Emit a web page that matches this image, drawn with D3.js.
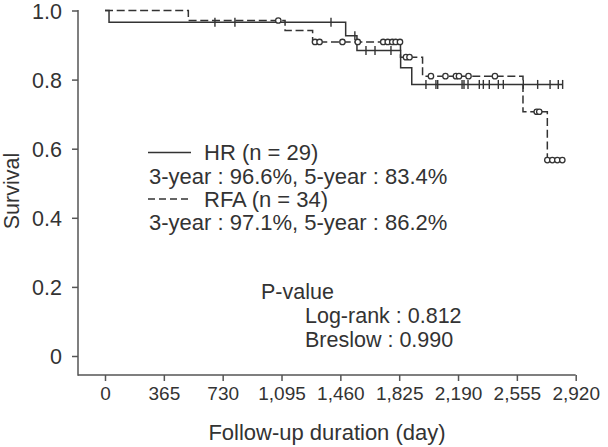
<!DOCTYPE html>
<html>
<head>
<meta charset="utf-8">
<script src="https://cdn.jsdelivr.net/npm/d3@7"></script>
<style>
  html, body { margin: 0; padding: 0; background: #fff; }
  svg { display: block; }
  text { font-family: "Liberation Sans", Arial, Helvetica, sans-serif; fill: #333; }
</style>
</head>
<body>
<svg id="chart" width="608" height="447"></svg>
<script>
// ---- data ----
const xTickValues = [0, 365, 730, 1095, 1460, 1825, 2190, 2555, 2920];
const xTickLabels = ["0", "365", "730", "1,095", "1,460", "1,825", "2,190", "2,555", "2,920"];
const yTickValues = [0, 0.2, 0.4, 0.6, 0.8, 1.0];
const yTickLabels = ["0", "0.2", "0.4", "0.6", "0.8", "1.0"];

// HR (solid) Kaplan-Meier step curve
const hrTimes = [0, 25, 1493, 1563, 1834, 1903];
const hrSurv  = [1, 0.966, 0.927, 0.884, 0.834, 0.786];
const hrEndTime = 2839;
const hrCensorTimes = [682, 806, 1402, 1550, 1619, 1675, 1774, 1991, 2053, 2064, 2215, 2227, 2252, 2322, 2347, 2384, 2440, 2471, 2595, 2684, 2761, 2812, 2839];
const hrCensorSurv  = [0.966, 0.966, 0.966, 0.927, 0.884, 0.884, 0.884, 0.786, 0.786, 0.786, 0.786, 0.786, 0.786, 0.786, 0.786, 0.786, 0.786, 0.786, 0.786, 0.786, 0.786, 0.786, 0.786];

// RFA (dashed) Kaplan-Meier step curve
const rfaTimes = [0, 517, 1117, 1288, 1833, 1970, 2593, 2744];
const rfaSurv  = [1, 0.971, 0.942, 0.909, 0.865, 0.810, 0.707, 0.567];
const rfaEndTime = 2744;
const rfaCensorTimes = [1075, 1303, 1331, 1473, 1568, 1726, 1754, 1782, 1803, 1830, 1867, 1889, 2022, 2112, 2177, 2196, 2255, 2419, 2678, 2694, 2744, 2775, 2806, 2837];
const rfaCensorSurv  = [0.971, 0.909, 0.909, 0.909, 0.909, 0.909, 0.909, 0.909, 0.909, 0.909, 0.865, 0.865, 0.810, 0.810, 0.810, 0.810, 0.810, 0.810, 0.707, 0.707, 0.567, 0.567, 0.567, 0.567];

const legendRows = [
  { kind: "solid", label: "HR (n = 29)" },
  { kind: null, label: "3-year : 96.6%, 5-year : 83.4%" },
  { kind: "dashed", label: "RFA (n = 34)" },
  { kind: null, label: "3-year : 97.1%, 5-year : 86.2%" }
];
const pTitle = "P-value";
const pRows = ["Log-rank : 0.812", "Breslow : 0.990"];

// ---- drawing ----
const ink = "#333";
const svg = d3.select("#chart");

const x = d3.scaleLinear().domain([0, 2920]).range([105, 575.7]);
const y = d3.scaleLinear().domain([0, 1]).range([356, 10.5]);

const axisX0 = 78, axisY0 = 375;

// axis lines
svg.append("line").attr("x1", axisX0).attr("x2", x(2920)).attr("y1", axisY0).attr("y2", axisY0)
  .attr("stroke", "#555").attr("stroke-width", 1.5);
svg.append("line").attr("x1", axisX0).attr("x2", axisX0).attr("y1", y(1) - 0.5).attr("y2", axisY0 + 0.7)
  .attr("stroke", "#555").attr("stroke-width", 1.5);

// x axis
const gx = svg.append("g").attr("transform", `translate(0,${axisY0})`)
  .call(d3.axisBottom(x).tickValues(xTickValues)
    .tickFormat((d, i) => xTickLabels[i]).tickSizeOuter(0).tickSize(6).tickPadding(4));
gx.select(".domain").remove();
gx.selectAll(".tick line").attr("stroke", "#555").attr("stroke-width", 1.5);
gx.selectAll(".tick text").attr("font-size", 19).attr("fill", ink)
  .attr("font-family", '"Liberation Sans", Arial, sans-serif')
  .attr("dy", null).attr("y", 25);

// y axis
const gy = svg.append("g").attr("transform", `translate(${axisX0},0)`)
  .call(d3.axisLeft(y).tickValues(yTickValues)
    .tickFormat((d, i) => yTickLabels[i]).tickSizeOuter(0).tickSize(6));
gy.select(".domain").remove();
gy.selectAll(".tick line").attr("stroke", "#555").attr("stroke-width", 1.5);
gy.selectAll(".tick text").attr("font-size", 21.5).attr("fill", ink)
  .attr("font-family", '"Liberation Sans", Arial, sans-serif')
  .attr("x", -16).attr("dy", "0.36em");

// axis titles
svg.append("text").attr("x", 327).attr("y", 440).attr("text-anchor", "middle")
  .attr("font-size", 22).text("Follow-up duration (day)");
svg.append("text").attr("transform", "translate(19,191) rotate(-90)").attr("text-anchor", "middle")
  .attr("font-size", 21.5).text("Survival");

// curves
function stepPoints(times, surv, endT) {
  const pts = times.map((t, i) => [t, surv[i]]);
  pts.push([endT, surv[surv.length - 1]]);
  return pts;
}
const line = d3.line().x(d => x(d[0])).y(d => y(d[1])).curve(d3.curveStepAfter);

svg.append("path").attr("d", line(stepPoints(rfaTimes, rfaSurv, rfaEndTime)))
  .attr("fill", "none").attr("stroke", ink).attr("stroke-width", 1.5)
  .attr("stroke-dasharray", "8,3.7");
svg.append("path").attr("d", line(stepPoints(hrTimes, hrSurv, hrEndTime)))
  .attr("fill", "none").attr("stroke", ink).attr("stroke-width", 1.5);

// HR censor ticks
svg.append("g").selectAll("line").data(hrCensorTimes).join("line")
  .attr("x1", d => x(d)).attr("x2", d => x(d))
  .attr("y1", (d, i) => y(hrCensorSurv[i]) - 4.5)
  .attr("y2", (d, i) => y(hrCensorSurv[i]) + 4.5)
  .attr("stroke", ink).attr("stroke-width", 1.4);

// RFA censor circles
svg.append("g").selectAll("circle").data(rfaCensorTimes).join("circle")
  .attr("cx", d => x(d)).attr("cy", (d, i) => y(rfaCensorSurv[i]))
  .attr("r", 2.7).attr("fill", "#fff").attr("stroke", ink).attr("stroke-width", 1.3);

// legend
const legY = [160, 183.5, 206.5, 230];
legendRows.forEach((r, i) => {
  if (r.kind) {
    svg.append("line").attr("x1", 148).attr("x2", 191).attr("y1", legY[i] - 7.5).attr("y2", legY[i] - 7.5)
      .attr("stroke", ink).attr("stroke-width", 1.4)
      .attr("stroke-dasharray", r.kind === "dashed" ? "7,4" : null);
    svg.append("text").attr("x", 204).attr("y", legY[i]).attr("font-size", 22).text(r.label);
  } else {
    svg.append("text").attr("x", 149).attr("y", legY[i]).attr("font-size", 22).text(r.label);
  }
});

// p-values
svg.append("text").attr("x", 261).attr("y", 298.5).attr("font-size", 21.5).text(pTitle);
pRows.forEach((t, i) => {
  svg.append("text").attr("x", 305).attr("y", 323 + i * 23.5).attr("font-size", 21.5).text(t);
});
</script>
</body>
</html>
